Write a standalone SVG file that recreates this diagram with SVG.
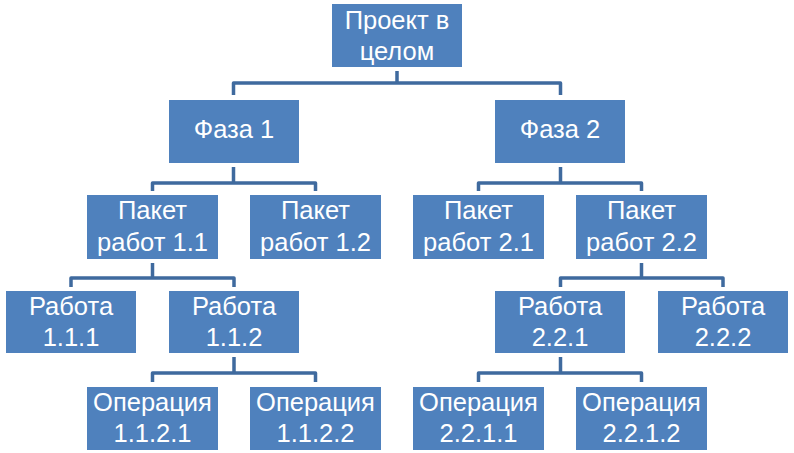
<svg xmlns="http://www.w3.org/2000/svg" width="794" height="453" viewBox="0 0 794 453">
<style>
.box{fill:#4F81BD}
.t{fill:#FFFFFF;font-family:"Liberation Sans",Arial,sans-serif;font-size:25.5px;text-anchor:middle}
.c{fill:none;stroke:#3F6A9E;stroke-width:3.5;stroke-linejoin:round}
</style>
<rect width="794" height="453" fill="#FFFFFF"/>
<g id="connectors">
<path class="c" d="M397,71 V83 M233.5,95 V83 H560.5 V95"/>
<path class="c" d="M233.5,167 V183 M152.5,191 V183 H315.5 V191"/>
<path class="c" d="M560.5,167 V183 M478.5,191 V183 H641.5 V191"/>
<path class="c" d="M152.5,263 V278 M71,287 V278 H234 V287"/>
<path class="c" d="M641.5,263 V278 M560.5,287 V278 H723 V287"/>
<path class="c" d="M234,357 V373 M152.5,382 V373 H315.5 V382"/>
<path class="c" d="M560.5,357 V373 M478.5,382 V373 H641.5 V382"/>
</g>
<g id="root"><rect class="box" x="332" y="4" width="130" height="63"/><text class="t" x="397" y="29">Проект в</text><text class="t" x="397" y="60">целом</text></g>
<g id="phase1"><rect class="box" x="169" y="100" width="130" height="63"/><text class="t" x="234" y="138">Фаза 1</text></g>
<g id="phase2"><rect class="box" x="495" y="100" width="130" height="63"/><text class="t" x="560" y="138">Фаза 2</text></g>
<g id="wp11"><rect class="box" x="87" y="195" width="131" height="64"/><text class="t" x="152.5" y="219">Пакет</text><text class="t" x="152.5" y="251">работ 1.1</text></g>
<g id="wp12"><rect class="box" x="250" y="195" width="131" height="64"/><text class="t" x="315.5" y="219">Пакет</text><text class="t" x="315.5" y="251">работ 1.2</text></g>
<g id="wp21"><rect class="box" x="413" y="195" width="131" height="64"/><text class="t" x="478.5" y="219">Пакет</text><text class="t" x="478.5" y="251">работ 2.1</text></g>
<g id="wp22"><rect class="box" x="576" y="195" width="131" height="64"/><text class="t" x="641.5" y="219">Пакет</text><text class="t" x="641.5" y="251">работ 2.2</text></g>
<g id="w111"><rect class="box" x="6" y="291" width="130" height="62"/><text class="t" x="71" y="315">Работа</text><text class="t" x="71" y="346">1.1.1</text></g>
<g id="w112"><rect class="box" x="169" y="291" width="130" height="62"/><text class="t" x="234" y="315">Работа</text><text class="t" x="234" y="346">1.1.2</text></g>
<g id="w221"><rect class="box" x="495" y="291" width="130" height="62"/><text class="t" x="560" y="315">Работа</text><text class="t" x="560" y="346">2.2.1</text></g>
<g id="w222"><rect class="box" x="658" y="291" width="130" height="62"/><text class="t" x="723" y="315">Работа</text><text class="t" x="723" y="346">2.2.2</text></g>
<g id="op1121"><rect class="box" x="87" y="387" width="131" height="63"/><text class="t" x="152.5" y="411">Операция</text><text class="t" x="152.5" y="442">1.1.2.1</text></g>
<g id="op1122"><rect class="box" x="250" y="387" width="131" height="63"/><text class="t" x="315.5" y="411">Операция</text><text class="t" x="315.5" y="442">1.1.2.2</text></g>
<g id="op2211"><rect class="box" x="413" y="387" width="131" height="63"/><text class="t" x="478.5" y="411">Операция</text><text class="t" x="478.5" y="442">2.2.1.1</text></g>
<g id="op2212"><rect class="box" x="576" y="387" width="131" height="63"/><text class="t" x="641.5" y="411">Операция</text><text class="t" x="641.5" y="442">2.2.1.2</text></g>
</svg>
